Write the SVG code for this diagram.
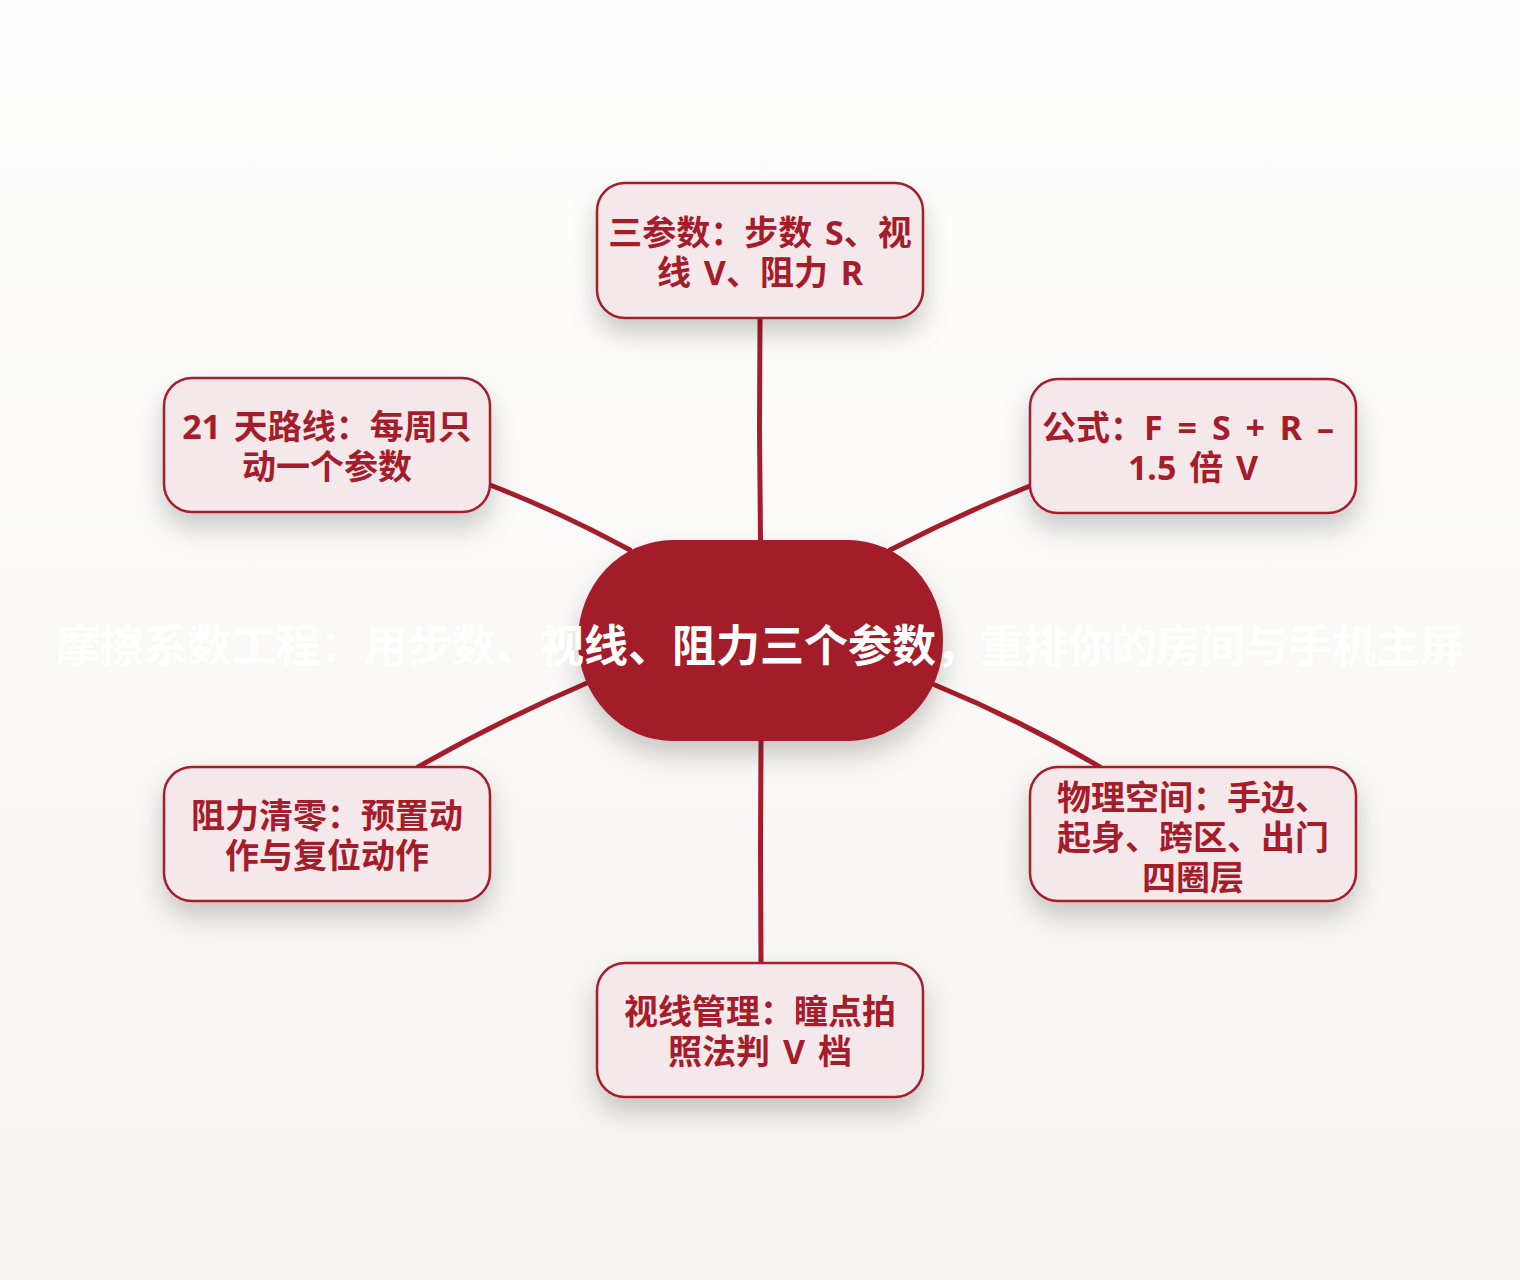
<svg xmlns="http://www.w3.org/2000/svg" width="1520" height="1280" viewBox="0 0 1520 1280">
<defs>
<linearGradient id="bg" x1="0" y1="0" x2="0" y2="1">
<stop offset="0" stop-color="#fefefe"/>
<stop offset="1" stop-color="#f6f4f0"/>
</linearGradient>
<filter id="sh" x="-30%" y="-30%" width="160%" height="180%">
<feDropShadow dx="0" dy="14" stdDeviation="13" flood-color="#000" flood-opacity="0.2"/>
</filter>
</defs>
<style>
.node rect{fill:#f5e8ea;stroke:#a51c2b;stroke-width:2.5;filter:url(#sh)}
.node text{font-family:"Noto Sans","Noto Sans CJK SC",sans-serif;font-weight:700;font-size:34px;fill:#a51c2b;text-anchor:middle;word-spacing:4px}
.node text.f{word-spacing:6px}
.edges path{fill:none;stroke:#a51c2b;stroke-width:5;stroke-linecap:round}
.center rect{fill:#a31a2a;filter:url(#sh)}
.center text{font-family:"Noto Sans CJK SC","Noto Sans",sans-serif;font-weight:700;font-size:44px;fill:#ffffff;text-anchor:middle}
</style>
<rect x="0" y="0" width="1520" height="1280" fill="url(#bg)"/>
<g class="edges">
<path d="M760 318 L759.5 430 L760.5 540"/>
<path d="M1030 486 Q960 514 890 550"/>
<path d="M490 485 Q560 512 630 550"/>
<path d="M587 683 Q500 720 418 767"/>
<path d="M935 685 Q1020 720 1100 767"/>
<path d="M761 741 L760.5 850 L761 963"/>
</g>
<g id="n1" class="node">
<rect x="597" y="183" width="326" height="135" rx="28"/>
<text x="760" y="245">三参数：步数 S、视</text>
<text x="760" y="285">线 V、阻力 R</text>
</g>
<g id="n2" class="node">
<rect x="1030" y="379" width="326" height="134" rx="28"/>
<text class="f" x="1188" y="440">公式：F = S + R –</text>
<text x="1193" y="480">1.5 倍 V</text>
</g>
<g id="n3" class="node">
<rect x="1030" y="767" width="326" height="134" rx="28"/>
<text x="1193" y="810">物理空间：手边、</text>
<text x="1193" y="850">起身、跨区、出门</text>
<text x="1193" y="890">四圈层</text>
</g>
<g id="n4" class="node">
<rect x="597" y="963" width="326" height="134" rx="28"/>
<text x="760" y="1024">视线管理：瞳点拍</text>
<text x="760" y="1064">照法判 V 档</text>
</g>
<g id="n5" class="node">
<rect x="164" y="767" width="326" height="134" rx="28"/>
<text x="327" y="828">阻力清零：预置动</text>
<text x="327" y="868">作与复位动作</text>
</g>
<g id="n6" class="node">
<rect x="164" y="378" width="326" height="134" rx="28"/>
<text x="327" y="439">21 天路线：每周只</text>
<text x="327" y="479">动一个参数</text>
</g>
<g id="center" class="center">
<rect x="578" y="540" width="365" height="201" rx="95" ry="100"/>
<text x="760" y="662">摩擦系数工程：用步数、视线、阻力三个参数，重排你的房间与手机主屏</text>
</g>
</svg>
